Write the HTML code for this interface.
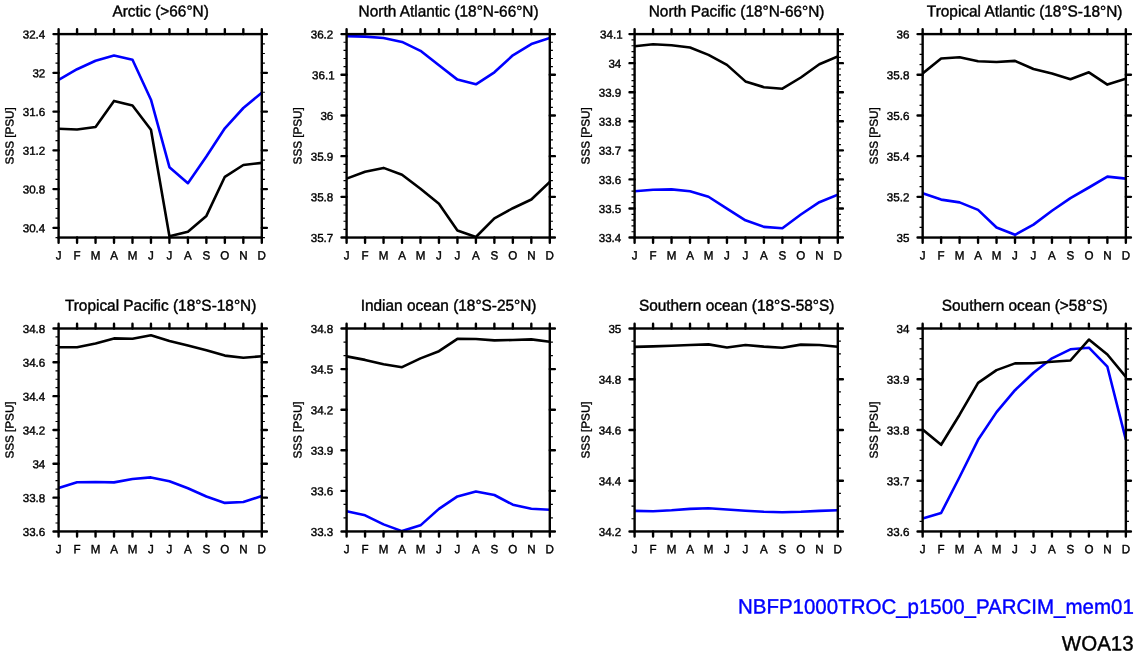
<!DOCTYPE html>
<html lang="en">
<head>
<meta charset="utf-8">
<title>SSS seasonal cycle</title>
<style>
html,body{margin:0;padding:0;background:#fff;}
body{width:1138px;height:656px;overflow:hidden;}
svg{display:block;}
text{font-family:"Liberation Sans",Arial,Helvetica,sans-serif;fill:#000;stroke:#000;stroke-width:0.4px;stroke-linejoin:round;}
.f1{font-size:20.5px;text-anchor:end;fill:#0000ff;stroke:#0000ff;}
.f2{font-size:20.5px;text-anchor:end;}
.t{font-size:15.4px;text-anchor:middle;}
.yl{font-size:11.6px;text-anchor:end;}
.xl{font-size:11.6px;text-anchor:middle;}
.al{font-size:11.7px;text-anchor:middle;}
.fr{fill:none;stroke:#000;stroke-width:2.4;stroke-linecap:butt;}
.mj{fill:none;stroke:#000;stroke-width:2.4;stroke-linecap:round;}
.mn{fill:none;stroke:#000;stroke-width:1.2;stroke-linecap:butt;}
.k{fill:none;stroke:#000;stroke-width:2.6;stroke-linejoin:round;stroke-linecap:butt;}
.b{fill:none;stroke:#0000ff;stroke-width:2.6;stroke-linejoin:round;stroke-linecap:butt;}
</style>
</head>
<body>
<svg width="1138" height="656" viewBox="0 0 1138 656">
<rect x="0" y="0" width="1138" height="656" fill="#ffffff"/>
<g id="panel1">
<clipPath id="c1"><rect x="58.6" y="34.1" width="203.2" height="203.45"/></clipPath>
<polyline class="b" clip-path="url(#c1)" points="58.6,80 77.07,69.2 95.55,60.7 114.02,55.6 132.49,59.7 150.96,99.7 169.44,167.2 187.91,183.2 206.38,156.5 224.85,128.3 243.33,108 261.8,92.7"/>
<polyline class="k" clip-path="url(#c1)" points="58.6,128.8 77.07,129.5 95.55,127 114.02,100.9 132.49,105.5 150.96,129.8 169.44,236.3 187.91,231.7 206.38,215.9 224.85,176.8 243.33,165 261.8,162.9"/>
<path class="mn" d="M55.5 237.55H58.6M261.8 237.55H264.9M55.5 218.17H58.6M261.8 218.17H264.9M55.5 208.49H58.6M261.8 208.49H264.9M55.5 198.8H58.6M261.8 198.8H264.9M55.5 179.42H58.6M261.8 179.42H264.9M55.5 169.73H58.6M261.8 169.73H264.9M55.5 160.05H58.6M261.8 160.05H264.9M55.5 140.67H58.6M261.8 140.67H264.9M55.5 130.98H58.6M261.8 130.98H264.9M55.5 121.29H58.6M261.8 121.29H264.9M55.5 101.92H58.6M261.8 101.92H264.9M55.5 92.23H58.6M261.8 92.23H264.9M55.5 82.54H58.6M261.8 82.54H264.9M55.5 63.16H58.6M261.8 63.16H264.9M55.5 53.48H58.6M261.8 53.48H264.9M55.5 43.79H58.6M261.8 43.79H264.9"/>
<path class="mj" d="M53.5 227.86H58.6M261.8 227.86H266.9M53.5 189.11H58.6M261.8 189.11H266.9M53.5 150.36H58.6M261.8 150.36H266.9M53.5 111.6H58.6M261.8 111.6H266.9M53.5 72.85H58.6M261.8 72.85H266.9M53.5 34.1H58.6M261.8 34.1H266.9M58.6 29.3V34.1M58.6 237.55V242.7M77.07 29.3V34.1M77.07 237.55V242.7M95.55 29.3V34.1M95.55 237.55V242.7M114.02 29.3V34.1M114.02 237.55V242.7M132.49 29.3V34.1M132.49 237.55V242.7M150.96 29.3V34.1M150.96 237.55V242.7M169.44 29.3V34.1M169.44 237.55V242.7M187.91 29.3V34.1M187.91 237.55V242.7M206.38 29.3V34.1M206.38 237.55V242.7M224.85 29.3V34.1M224.85 237.55V242.7M243.33 29.3V34.1M243.33 237.55V242.7M261.8 29.3V34.1M261.8 237.55V242.7"/>
<rect class="fr" x="58.6" y="34.1" width="203.2" height="203.45"/>
<text class="t" transform="translate(160.6 16.6) rotate(0.03) scale(1 1.03)">Arctic (>66°N)</text>
<text class="yl" transform="translate(45.3 232.36) rotate(0.03)">30.4</text>
<text class="yl" transform="translate(45.3 193.61) rotate(0.03)">30.8</text>
<text class="yl" transform="translate(45.3 154.86) rotate(0.03)">31.2</text>
<text class="yl" transform="translate(45.3 116.1) rotate(0.03)">31.6</text>
<text class="yl" transform="translate(45.3 77.35) rotate(0.03)">32</text>
<text class="yl" transform="translate(45.3 38.6) rotate(0.03)">32.4</text>
<text class="xl" transform="translate(58.6 259.45) rotate(0.03) scale(1 1.04)">J</text>
<text class="xl" transform="translate(77.07 259.45) rotate(0.03) scale(1 1.04)">F</text>
<text class="xl" transform="translate(95.55 259.45) rotate(0.03) scale(1 1.04)">M</text>
<text class="xl" transform="translate(114.02 259.45) rotate(0.03) scale(1 1.04)">A</text>
<text class="xl" transform="translate(132.49 259.45) rotate(0.03) scale(1 1.04)">M</text>
<text class="xl" transform="translate(150.96 259.45) rotate(0.03) scale(1 1.04)">J</text>
<text class="xl" transform="translate(169.44 259.45) rotate(0.03) scale(1 1.04)">J</text>
<text class="xl" transform="translate(187.91 259.45) rotate(0.03) scale(1 1.04)">A</text>
<text class="xl" transform="translate(206.38 259.45) rotate(0.03) scale(1 1.04)">S</text>
<text class="xl" transform="translate(224.85 259.45) rotate(0.03) scale(1 1.04)">O</text>
<text class="xl" transform="translate(243.33 259.45) rotate(0.03) scale(1 1.04)">N</text>
<text class="xl" transform="translate(261.8 259.45) rotate(0.03) scale(1 1.04)">D</text>
<text class="al" transform="translate(13.6 135.82) rotate(-89.97) scale(1 0.99)">SSS [PSU]</text>
</g>
<g id="panel2">
<clipPath id="c2"><rect x="346.6" y="34.1" width="203.2" height="203.45"/></clipPath>
<polyline class="b" clip-path="url(#c2)" points="346.6,36.1 365.07,36.6 383.55,37.95 402.02,41.9 420.49,50.8 438.96,65.3 457.44,79.6 475.91,84.3 494.38,72.3 512.85,55.3 531.33,44.05 549.8,37.95"/>
<polyline class="k" clip-path="url(#c2)" points="346.6,178.6 365.07,171.8 383.55,167.9 402.02,174.7 420.49,188.8 438.96,203.7 457.44,230.5 475.91,237 494.38,218.4 512.85,208.2 531.33,199.5 549.8,181.9"/>
<path class="mn" d="M343.5 229.41H346.6M549.8 229.41H552.9M343.5 221.27H346.6M549.8 221.27H552.9M343.5 213.14H346.6M549.8 213.14H552.9M343.5 205H346.6M549.8 205H552.9M343.5 188.72H346.6M549.8 188.72H552.9M343.5 180.58H346.6M549.8 180.58H552.9M343.5 172.45H346.6M549.8 172.45H552.9M343.5 164.31H346.6M549.8 164.31H552.9M343.5 148.03H346.6M549.8 148.03H552.9M343.5 139.89H346.6M549.8 139.89H552.9M343.5 131.76H346.6M549.8 131.76H552.9M343.5 123.62H346.6M549.8 123.62H552.9M343.5 107.34H346.6M549.8 107.34H552.9M343.5 99.2H346.6M549.8 99.2H552.9M343.5 91.07H346.6M549.8 91.07H552.9M343.5 82.93H346.6M549.8 82.93H552.9M343.5 66.65H346.6M549.8 66.65H552.9M343.5 58.51H346.6M549.8 58.51H552.9M343.5 50.38H346.6M549.8 50.38H552.9M343.5 42.24H346.6M549.8 42.24H552.9"/>
<path class="mj" d="M341.5 237.55H346.6M549.8 237.55H554.9M341.5 196.86H346.6M549.8 196.86H554.9M341.5 156.17H346.6M549.8 156.17H554.9M341.5 115.48H346.6M549.8 115.48H554.9M341.5 74.79H346.6M549.8 74.79H554.9M341.5 34.1H346.6M549.8 34.1H554.9M346.6 29.3V34.1M346.6 237.55V242.7M365.07 29.3V34.1M365.07 237.55V242.7M383.55 29.3V34.1M383.55 237.55V242.7M402.02 29.3V34.1M402.02 237.55V242.7M420.49 29.3V34.1M420.49 237.55V242.7M438.96 29.3V34.1M438.96 237.55V242.7M457.44 29.3V34.1M457.44 237.55V242.7M475.91 29.3V34.1M475.91 237.55V242.7M494.38 29.3V34.1M494.38 237.55V242.7M512.85 29.3V34.1M512.85 237.55V242.7M531.33 29.3V34.1M531.33 237.55V242.7M549.8 29.3V34.1M549.8 237.55V242.7"/>
<rect class="fr" x="346.6" y="34.1" width="203.2" height="203.45"/>
<text class="t" transform="translate(448.6 16.6) rotate(0.03) scale(1 1.03)">North Atlantic (18°N-66°N)</text>
<text class="yl" transform="translate(333.3 242.05) rotate(0.03)">35.7</text>
<text class="yl" transform="translate(333.3 201.36) rotate(0.03)">35.8</text>
<text class="yl" transform="translate(333.3 160.67) rotate(0.03)">35.9</text>
<text class="yl" transform="translate(333.3 119.98) rotate(0.03)">36</text>
<text class="yl" transform="translate(334.6 79.29) rotate(0.03)">36.1</text>
<text class="yl" transform="translate(333.3 38.6) rotate(0.03)">36.2</text>
<text class="xl" transform="translate(346.6 259.45) rotate(0.03) scale(1 1.04)">J</text>
<text class="xl" transform="translate(365.07 259.45) rotate(0.03) scale(1 1.04)">F</text>
<text class="xl" transform="translate(383.55 259.45) rotate(0.03) scale(1 1.04)">M</text>
<text class="xl" transform="translate(402.02 259.45) rotate(0.03) scale(1 1.04)">A</text>
<text class="xl" transform="translate(420.49 259.45) rotate(0.03) scale(1 1.04)">M</text>
<text class="xl" transform="translate(438.96 259.45) rotate(0.03) scale(1 1.04)">J</text>
<text class="xl" transform="translate(457.44 259.45) rotate(0.03) scale(1 1.04)">J</text>
<text class="xl" transform="translate(475.91 259.45) rotate(0.03) scale(1 1.04)">A</text>
<text class="xl" transform="translate(494.38 259.45) rotate(0.03) scale(1 1.04)">S</text>
<text class="xl" transform="translate(512.85 259.45) rotate(0.03) scale(1 1.04)">O</text>
<text class="xl" transform="translate(531.33 259.45) rotate(0.03) scale(1 1.04)">N</text>
<text class="xl" transform="translate(549.8 259.45) rotate(0.03) scale(1 1.04)">D</text>
<text class="al" transform="translate(301.6 135.82) rotate(-89.97) scale(1 0.99)">SSS [PSU]</text>
</g>
<g id="panel3">
<clipPath id="c3"><rect x="634.6" y="34.1" width="203.2" height="203.45"/></clipPath>
<polyline class="b" clip-path="url(#c3)" points="634.6,191.3 653.07,189.8 671.55,189.4 690.02,191.3 708.49,196.75 726.96,208.7 745.44,220.3 763.91,226.9 782.38,228.3 800.85,214.5 819.33,202.2 837.8,194.8"/>
<polyline class="k" clip-path="url(#c3)" points="634.6,46.2 653.07,44.2 671.55,45.2 690.02,47.5 708.49,54.9 726.96,64.9 745.44,81.4 763.91,87.2 782.38,88.7 800.85,77.5 819.33,64.3 837.8,56.4"/>
<path class="mn" d="M631.5 231.74H634.6M837.8 231.74H840.9M631.5 225.92H634.6M837.8 225.92H840.9M631.5 220.11H634.6M837.8 220.11H840.9M631.5 214.3H634.6M837.8 214.3H840.9M631.5 202.67H634.6M837.8 202.67H840.9M631.5 196.86H634.6M837.8 196.86H840.9M631.5 191.05H634.6M837.8 191.05H840.9M631.5 185.23H634.6M837.8 185.23H840.9M631.5 173.61H634.6M837.8 173.61H840.9M631.5 167.8H634.6M837.8 167.8H840.9M631.5 161.98H634.6M837.8 161.98H840.9M631.5 156.17H634.6M837.8 156.17H840.9M631.5 144.54H634.6M837.8 144.54H840.9M631.5 138.73H634.6M837.8 138.73H840.9M631.5 132.92H634.6M837.8 132.92H840.9M631.5 127.11H634.6M837.8 127.11H840.9M631.5 115.48H634.6M837.8 115.48H840.9M631.5 109.67H634.6M837.8 109.67H840.9M631.5 103.85H634.6M837.8 103.85H840.9M631.5 98.04H634.6M837.8 98.04H840.9M631.5 86.42H634.6M837.8 86.42H840.9M631.5 80.6H634.6M837.8 80.6H840.9M631.5 74.79H634.6M837.8 74.79H840.9M631.5 68.98H634.6M837.8 68.98H840.9M631.5 57.35H634.6M837.8 57.35H840.9M631.5 51.54H634.6M837.8 51.54H840.9M631.5 45.73H634.6M837.8 45.73H840.9M631.5 39.91H634.6M837.8 39.91H840.9"/>
<path class="mj" d="M629.5 237.55H634.6M837.8 237.55H842.9M629.5 208.49H634.6M837.8 208.49H842.9M629.5 179.42H634.6M837.8 179.42H842.9M629.5 150.36H634.6M837.8 150.36H842.9M629.5 121.29H634.6M837.8 121.29H842.9M629.5 92.23H634.6M837.8 92.23H842.9M629.5 63.16H634.6M837.8 63.16H842.9M629.5 34.1H634.6M837.8 34.1H842.9M634.6 29.3V34.1M634.6 237.55V242.7M653.07 29.3V34.1M653.07 237.55V242.7M671.55 29.3V34.1M671.55 237.55V242.7M690.02 29.3V34.1M690.02 237.55V242.7M708.49 29.3V34.1M708.49 237.55V242.7M726.96 29.3V34.1M726.96 237.55V242.7M745.44 29.3V34.1M745.44 237.55V242.7M763.91 29.3V34.1M763.91 237.55V242.7M782.38 29.3V34.1M782.38 237.55V242.7M800.85 29.3V34.1M800.85 237.55V242.7M819.33 29.3V34.1M819.33 237.55V242.7M837.8 29.3V34.1M837.8 237.55V242.7"/>
<rect class="fr" x="634.6" y="34.1" width="203.2" height="203.45"/>
<text class="t" transform="translate(736.6 16.6) rotate(0.03) scale(1 1.03)">North Pacific (18°N-66°N)</text>
<text class="yl" transform="translate(621.3 242.05) rotate(0.03)">33.4</text>
<text class="yl" transform="translate(621.3 212.99) rotate(0.03)">33.5</text>
<text class="yl" transform="translate(621.3 183.92) rotate(0.03)">33.6</text>
<text class="yl" transform="translate(621.3 154.86) rotate(0.03)">33.7</text>
<text class="yl" transform="translate(621.3 125.79) rotate(0.03)">33.8</text>
<text class="yl" transform="translate(621.3 96.73) rotate(0.03)">33.9</text>
<text class="yl" transform="translate(621.3 67.66) rotate(0.03)">34</text>
<text class="yl" transform="translate(622.6 38.6) rotate(0.03)">34.1</text>
<text class="xl" transform="translate(634.6 259.45) rotate(0.03) scale(1 1.04)">J</text>
<text class="xl" transform="translate(653.07 259.45) rotate(0.03) scale(1 1.04)">F</text>
<text class="xl" transform="translate(671.55 259.45) rotate(0.03) scale(1 1.04)">M</text>
<text class="xl" transform="translate(690.02 259.45) rotate(0.03) scale(1 1.04)">A</text>
<text class="xl" transform="translate(708.49 259.45) rotate(0.03) scale(1 1.04)">M</text>
<text class="xl" transform="translate(726.96 259.45) rotate(0.03) scale(1 1.04)">J</text>
<text class="xl" transform="translate(745.44 259.45) rotate(0.03) scale(1 1.04)">J</text>
<text class="xl" transform="translate(763.91 259.45) rotate(0.03) scale(1 1.04)">A</text>
<text class="xl" transform="translate(782.38 259.45) rotate(0.03) scale(1 1.04)">S</text>
<text class="xl" transform="translate(800.85 259.45) rotate(0.03) scale(1 1.04)">O</text>
<text class="xl" transform="translate(819.33 259.45) rotate(0.03) scale(1 1.04)">N</text>
<text class="xl" transform="translate(837.8 259.45) rotate(0.03) scale(1 1.04)">D</text>
<text class="al" transform="translate(589.6 135.82) rotate(-89.97) scale(1 0.99)">SSS [PSU]</text>
</g>
<g id="panel4">
<clipPath id="c4"><rect x="922.65" y="34.1" width="203.2" height="203.45"/></clipPath>
<polyline class="b" clip-path="url(#c4)" points="922.65,193.3 941.12,199.6 959.6,202.4 978.07,209.9 996.54,227.5 1015.01,234.8 1033.49,224.6 1051.96,210.7 1070.43,198.1 1088.9,187.5 1107.38,176.6 1125.85,178.6"/>
<polyline class="k" clip-path="url(#c4)" points="922.65,73.4 941.12,58.55 959.6,57.2 978.07,61.25 996.54,62 1015.01,60.9 1033.49,69 1051.96,73.4 1070.43,79.2 1088.9,72.3 1107.38,84.6 1125.85,78.8"/>
<path class="mn" d="M919.55 227.38H922.65M1125.85 227.38H1128.95M919.55 217.2H922.65M1125.85 217.2H1128.95M919.55 207.03H922.65M1125.85 207.03H1128.95M919.55 186.69H922.65M1125.85 186.69H1128.95M919.55 176.52H922.65M1125.85 176.52H1128.95M919.55 166.34H922.65M1125.85 166.34H1128.95M919.55 146H922.65M1125.85 146H1128.95M919.55 135.82H922.65M1125.85 135.82H1128.95M919.55 125.65H922.65M1125.85 125.65H1128.95M919.55 105.31H922.65M1125.85 105.31H1128.95M919.55 95.13H922.65M1125.85 95.13H1128.95M919.55 84.96H922.65M1125.85 84.96H1128.95M919.55 64.62H922.65M1125.85 64.62H1128.95M919.55 54.45H922.65M1125.85 54.45H1128.95M919.55 44.27H922.65M1125.85 44.27H1128.95"/>
<path class="mj" d="M917.55 237.55H922.65M1125.85 237.55H1130.95M917.55 196.86H922.65M1125.85 196.86H1130.95M917.55 156.17H922.65M1125.85 156.17H1130.95M917.55 115.48H922.65M1125.85 115.48H1130.95M917.55 74.79H922.65M1125.85 74.79H1130.95M917.55 34.1H922.65M1125.85 34.1H1130.95M922.65 29.3V34.1M922.65 237.55V242.7M941.12 29.3V34.1M941.12 237.55V242.7M959.6 29.3V34.1M959.6 237.55V242.7M978.07 29.3V34.1M978.07 237.55V242.7M996.54 29.3V34.1M996.54 237.55V242.7M1015.01 29.3V34.1M1015.01 237.55V242.7M1033.49 29.3V34.1M1033.49 237.55V242.7M1051.96 29.3V34.1M1051.96 237.55V242.7M1070.43 29.3V34.1M1070.43 237.55V242.7M1088.9 29.3V34.1M1088.9 237.55V242.7M1107.38 29.3V34.1M1107.38 237.55V242.7M1125.85 29.3V34.1M1125.85 237.55V242.7"/>
<rect class="fr" x="922.65" y="34.1" width="203.2" height="203.45"/>
<text class="t" transform="translate(1024.65 16.6) rotate(0.03) scale(1 1.03)">Tropical Atlantic (18°S-18°N)</text>
<text class="yl" transform="translate(909.35 242.05) rotate(0.03)">35</text>
<text class="yl" transform="translate(909.35 201.36) rotate(0.03)">35.2</text>
<text class="yl" transform="translate(909.35 160.67) rotate(0.03)">35.4</text>
<text class="yl" transform="translate(909.35 119.98) rotate(0.03)">35.6</text>
<text class="yl" transform="translate(909.35 79.29) rotate(0.03)">35.8</text>
<text class="yl" transform="translate(909.35 38.6) rotate(0.03)">36</text>
<text class="xl" transform="translate(922.65 259.45) rotate(0.03) scale(1 1.04)">J</text>
<text class="xl" transform="translate(941.12 259.45) rotate(0.03) scale(1 1.04)">F</text>
<text class="xl" transform="translate(959.6 259.45) rotate(0.03) scale(1 1.04)">M</text>
<text class="xl" transform="translate(978.07 259.45) rotate(0.03) scale(1 1.04)">A</text>
<text class="xl" transform="translate(996.54 259.45) rotate(0.03) scale(1 1.04)">M</text>
<text class="xl" transform="translate(1015.01 259.45) rotate(0.03) scale(1 1.04)">J</text>
<text class="xl" transform="translate(1033.49 259.45) rotate(0.03) scale(1 1.04)">J</text>
<text class="xl" transform="translate(1051.96 259.45) rotate(0.03) scale(1 1.04)">A</text>
<text class="xl" transform="translate(1070.43 259.45) rotate(0.03) scale(1 1.04)">S</text>
<text class="xl" transform="translate(1088.9 259.45) rotate(0.03) scale(1 1.04)">O</text>
<text class="xl" transform="translate(1107.38 259.45) rotate(0.03) scale(1 1.04)">N</text>
<text class="xl" transform="translate(1125.85 259.45) rotate(0.03) scale(1 1.04)">D</text>
<text class="al" transform="translate(877.65 135.82) rotate(-89.97) scale(1 0.99)">SSS [PSU]</text>
</g>
<g id="panel5">
<clipPath id="c5"><rect x="58.6" y="328.5" width="203.2" height="202.95"/></clipPath>
<polyline class="b" clip-path="url(#c5)" points="58.6,488 77.07,482.2 95.55,482.05 114.02,482.4 132.49,479 150.96,477.4 169.44,481.3 187.91,488.2 206.38,496.55 224.85,502.9 243.33,502 261.8,496"/>
<polyline class="k" clip-path="url(#c5)" points="58.6,347.3 77.07,347.3 95.55,343.5 114.02,338.4 132.49,338.8 150.96,335.2 169.44,340.95 187.91,345.6 206.38,350.2 224.85,355.6 243.33,357.8 261.8,356.2"/>
<path class="mn" d="M55.5 522.99H58.6M261.8 522.99H264.9M55.5 514.54H58.6M261.8 514.54H264.9M55.5 506.08H58.6M261.8 506.08H264.9M55.5 489.17H58.6M261.8 489.17H264.9M55.5 480.71H58.6M261.8 480.71H264.9M55.5 472.26H58.6M261.8 472.26H264.9M55.5 455.34H58.6M261.8 455.34H264.9M55.5 446.89H58.6M261.8 446.89H264.9M55.5 438.43H58.6M261.8 438.43H264.9M55.5 421.52H58.6M261.8 421.52H264.9M55.5 413.06H58.6M261.8 413.06H264.9M55.5 404.61H58.6M261.8 404.61H264.9M55.5 387.69H58.6M261.8 387.69H264.9M55.5 379.24H58.6M261.8 379.24H264.9M55.5 370.78H58.6M261.8 370.78H264.9M55.5 353.87H58.6M261.8 353.87H264.9M55.5 345.41H58.6M261.8 345.41H264.9M55.5 336.96H58.6M261.8 336.96H264.9"/>
<path class="mj" d="M53.5 531.45H58.6M261.8 531.45H266.9M53.5 497.63H58.6M261.8 497.63H266.9M53.5 463.8H58.6M261.8 463.8H266.9M53.5 429.97H58.6M261.8 429.97H266.9M53.5 396.15H58.6M261.8 396.15H266.9M53.5 362.32H58.6M261.8 362.32H266.9M53.5 328.5H58.6M261.8 328.5H266.9M58.6 323.7V328.5M58.6 531.45V536.6M77.07 323.7V328.5M77.07 531.45V536.6M95.55 323.7V328.5M95.55 531.45V536.6M114.02 323.7V328.5M114.02 531.45V536.6M132.49 323.7V328.5M132.49 531.45V536.6M150.96 323.7V328.5M150.96 531.45V536.6M169.44 323.7V328.5M169.44 531.45V536.6M187.91 323.7V328.5M187.91 531.45V536.6M206.38 323.7V328.5M206.38 531.45V536.6M224.85 323.7V328.5M224.85 531.45V536.6M243.33 323.7V328.5M243.33 531.45V536.6M261.8 323.7V328.5M261.8 531.45V536.6"/>
<rect class="fr" x="58.6" y="328.5" width="203.2" height="202.95"/>
<text class="t" transform="translate(160.6 310.8) rotate(0.03) scale(1 1.03)">Tropical Pacific (18°S-18°N)</text>
<text class="yl" transform="translate(45.3 535.95) rotate(0.03)">33.6</text>
<text class="yl" transform="translate(45.3 502.13) rotate(0.03)">33.8</text>
<text class="yl" transform="translate(45.3 468.3) rotate(0.03)">34</text>
<text class="yl" transform="translate(45.3 434.47) rotate(0.03)">34.2</text>
<text class="yl" transform="translate(45.3 400.65) rotate(0.03)">34.4</text>
<text class="yl" transform="translate(45.3 366.82) rotate(0.03)">34.6</text>
<text class="yl" transform="translate(45.3 333) rotate(0.03)">34.8</text>
<text class="xl" transform="translate(58.6 553.35) rotate(0.03) scale(1 1.04)">J</text>
<text class="xl" transform="translate(77.07 553.35) rotate(0.03) scale(1 1.04)">F</text>
<text class="xl" transform="translate(95.55 553.35) rotate(0.03) scale(1 1.04)">M</text>
<text class="xl" transform="translate(114.02 553.35) rotate(0.03) scale(1 1.04)">A</text>
<text class="xl" transform="translate(132.49 553.35) rotate(0.03) scale(1 1.04)">M</text>
<text class="xl" transform="translate(150.96 553.35) rotate(0.03) scale(1 1.04)">J</text>
<text class="xl" transform="translate(169.44 553.35) rotate(0.03) scale(1 1.04)">J</text>
<text class="xl" transform="translate(187.91 553.35) rotate(0.03) scale(1 1.04)">A</text>
<text class="xl" transform="translate(206.38 553.35) rotate(0.03) scale(1 1.04)">S</text>
<text class="xl" transform="translate(224.85 553.35) rotate(0.03) scale(1 1.04)">O</text>
<text class="xl" transform="translate(243.33 553.35) rotate(0.03) scale(1 1.04)">N</text>
<text class="xl" transform="translate(261.8 553.35) rotate(0.03) scale(1 1.04)">D</text>
<text class="al" transform="translate(13.6 429.98) rotate(-89.97) scale(1 0.99)">SSS [PSU]</text>
</g>
<g id="panel6">
<clipPath id="c6"><rect x="346.6" y="328.5" width="203.2" height="202.95"/></clipPath>
<polyline class="b" clip-path="url(#c6)" points="346.6,511.2 365.07,515.3 383.55,524.4 402.02,531.1 420.49,525.35 438.96,508.9 457.44,496.4 475.91,491.5 494.38,495 512.85,504.7 531.33,508.7 549.8,509.7"/>
<polyline class="k" clip-path="url(#c6)" points="346.6,356.4 365.07,359.9 383.55,364.3 402.02,367.2 420.49,358.35 438.96,351.2 457.44,338.8 475.91,339 494.38,340.4 512.85,340 531.33,339.4 549.8,341.7"/>
<path class="mn" d="M343.5 517.92H346.6M549.8 517.92H552.9M343.5 504.39H346.6M549.8 504.39H552.9M343.5 477.33H346.6M549.8 477.33H552.9M343.5 463.8H346.6M549.8 463.8H552.9M343.5 436.74H346.6M549.8 436.74H552.9M343.5 423.21H346.6M549.8 423.21H552.9M343.5 396.15H346.6M549.8 396.15H552.9M343.5 382.62H346.6M549.8 382.62H552.9M343.5 355.56H346.6M549.8 355.56H552.9M343.5 342.03H346.6M549.8 342.03H552.9"/>
<path class="mj" d="M341.5 531.45H346.6M549.8 531.45H554.9M341.5 490.86H346.6M549.8 490.86H554.9M341.5 450.27H346.6M549.8 450.27H554.9M341.5 409.68H346.6M549.8 409.68H554.9M341.5 369.09H346.6M549.8 369.09H554.9M341.5 328.5H346.6M549.8 328.5H554.9M346.6 323.7V328.5M346.6 531.45V536.6M365.07 323.7V328.5M365.07 531.45V536.6M383.55 323.7V328.5M383.55 531.45V536.6M402.02 323.7V328.5M402.02 531.45V536.6M420.49 323.7V328.5M420.49 531.45V536.6M438.96 323.7V328.5M438.96 531.45V536.6M457.44 323.7V328.5M457.44 531.45V536.6M475.91 323.7V328.5M475.91 531.45V536.6M494.38 323.7V328.5M494.38 531.45V536.6M512.85 323.7V328.5M512.85 531.45V536.6M531.33 323.7V328.5M531.33 531.45V536.6M549.8 323.7V328.5M549.8 531.45V536.6"/>
<rect class="fr" x="346.6" y="328.5" width="203.2" height="202.95"/>
<text class="t" transform="translate(448.6 310.8) rotate(0.03) scale(1 1.03)">Indian ocean (18°S-25°N)</text>
<text class="yl" transform="translate(333.3 535.95) rotate(0.03)">33.3</text>
<text class="yl" transform="translate(333.3 495.36) rotate(0.03)">33.6</text>
<text class="yl" transform="translate(333.3 454.77) rotate(0.03)">33.9</text>
<text class="yl" transform="translate(333.3 414.18) rotate(0.03)">34.2</text>
<text class="yl" transform="translate(333.3 373.59) rotate(0.03)">34.5</text>
<text class="yl" transform="translate(333.3 333) rotate(0.03)">34.8</text>
<text class="xl" transform="translate(346.6 553.35) rotate(0.03) scale(1 1.04)">J</text>
<text class="xl" transform="translate(365.07 553.35) rotate(0.03) scale(1 1.04)">F</text>
<text class="xl" transform="translate(383.55 553.35) rotate(0.03) scale(1 1.04)">M</text>
<text class="xl" transform="translate(402.02 553.35) rotate(0.03) scale(1 1.04)">A</text>
<text class="xl" transform="translate(420.49 553.35) rotate(0.03) scale(1 1.04)">M</text>
<text class="xl" transform="translate(438.96 553.35) rotate(0.03) scale(1 1.04)">J</text>
<text class="xl" transform="translate(457.44 553.35) rotate(0.03) scale(1 1.04)">J</text>
<text class="xl" transform="translate(475.91 553.35) rotate(0.03) scale(1 1.04)">A</text>
<text class="xl" transform="translate(494.38 553.35) rotate(0.03) scale(1 1.04)">S</text>
<text class="xl" transform="translate(512.85 553.35) rotate(0.03) scale(1 1.04)">O</text>
<text class="xl" transform="translate(531.33 553.35) rotate(0.03) scale(1 1.04)">N</text>
<text class="xl" transform="translate(549.8 553.35) rotate(0.03) scale(1 1.04)">D</text>
<text class="al" transform="translate(301.6 429.98) rotate(-89.97) scale(1 0.99)">SSS [PSU]</text>
</g>
<g id="panel7">
<clipPath id="c7"><rect x="634.6" y="328.5" width="203.2" height="202.95"/></clipPath>
<polyline class="b" clip-path="url(#c7)" points="634.6,510.85 653.07,511.2 671.55,510.3 690.02,508.9 708.49,508.3 726.96,509.5 745.44,510.7 763.91,511.8 782.38,512.2 800.85,511.8 819.33,510.85 837.8,510.3"/>
<polyline class="k" clip-path="url(#c7)" points="634.6,346.9 653.07,346.4 671.55,345.8 690.02,345 708.49,344.4 726.96,347.5 745.44,345 763.91,346.6 782.38,347.7 800.85,344.6 819.33,345 837.8,346.75"/>
<path class="mn" d="M631.5 518.77H634.6M837.8 518.77H840.9M631.5 506.08H634.6M837.8 506.08H840.9M631.5 493.4H634.6M837.8 493.4H840.9M631.5 468.03H634.6M837.8 468.03H840.9M631.5 455.34H634.6M837.8 455.34H840.9M631.5 442.66H634.6M837.8 442.66H840.9M631.5 417.29H634.6M837.8 417.29H840.9M631.5 404.61H634.6M837.8 404.61H840.9M631.5 391.92H634.6M837.8 391.92H840.9M631.5 366.55H634.6M837.8 366.55H840.9M631.5 353.87H634.6M837.8 353.87H840.9M631.5 341.18H634.6M837.8 341.18H840.9"/>
<path class="mj" d="M629.5 531.45H634.6M837.8 531.45H842.9M629.5 480.71H634.6M837.8 480.71H842.9M629.5 429.98H634.6M837.8 429.98H842.9M629.5 379.24H634.6M837.8 379.24H842.9M629.5 328.5H634.6M837.8 328.5H842.9M634.6 323.7V328.5M634.6 531.45V536.6M653.07 323.7V328.5M653.07 531.45V536.6M671.55 323.7V328.5M671.55 531.45V536.6M690.02 323.7V328.5M690.02 531.45V536.6M708.49 323.7V328.5M708.49 531.45V536.6M726.96 323.7V328.5M726.96 531.45V536.6M745.44 323.7V328.5M745.44 531.45V536.6M763.91 323.7V328.5M763.91 531.45V536.6M782.38 323.7V328.5M782.38 531.45V536.6M800.85 323.7V328.5M800.85 531.45V536.6M819.33 323.7V328.5M819.33 531.45V536.6M837.8 323.7V328.5M837.8 531.45V536.6"/>
<rect class="fr" x="634.6" y="328.5" width="203.2" height="202.95"/>
<text class="t" transform="translate(736.6 310.8) rotate(0.03) scale(1 1.03)">Southern ocean (18°S-58°S)</text>
<text class="yl" transform="translate(621.3 535.95) rotate(0.03)">34.2</text>
<text class="yl" transform="translate(621.3 485.21) rotate(0.03)">34.4</text>
<text class="yl" transform="translate(621.3 434.48) rotate(0.03)">34.6</text>
<text class="yl" transform="translate(621.3 383.74) rotate(0.03)">34.8</text>
<text class="yl" transform="translate(621.3 333) rotate(0.03)">35</text>
<text class="xl" transform="translate(634.6 553.35) rotate(0.03) scale(1 1.04)">J</text>
<text class="xl" transform="translate(653.07 553.35) rotate(0.03) scale(1 1.04)">F</text>
<text class="xl" transform="translate(671.55 553.35) rotate(0.03) scale(1 1.04)">M</text>
<text class="xl" transform="translate(690.02 553.35) rotate(0.03) scale(1 1.04)">A</text>
<text class="xl" transform="translate(708.49 553.35) rotate(0.03) scale(1 1.04)">M</text>
<text class="xl" transform="translate(726.96 553.35) rotate(0.03) scale(1 1.04)">J</text>
<text class="xl" transform="translate(745.44 553.35) rotate(0.03) scale(1 1.04)">J</text>
<text class="xl" transform="translate(763.91 553.35) rotate(0.03) scale(1 1.04)">A</text>
<text class="xl" transform="translate(782.38 553.35) rotate(0.03) scale(1 1.04)">S</text>
<text class="xl" transform="translate(800.85 553.35) rotate(0.03) scale(1 1.04)">O</text>
<text class="xl" transform="translate(819.33 553.35) rotate(0.03) scale(1 1.04)">N</text>
<text class="xl" transform="translate(837.8 553.35) rotate(0.03) scale(1 1.04)">D</text>
<text class="al" transform="translate(589.6 429.98) rotate(-89.97) scale(1 0.99)">SSS [PSU]</text>
</g>
<g id="panel8">
<clipPath id="c8"><rect x="922.65" y="328.5" width="203.2" height="202.95"/></clipPath>
<polyline class="b" clip-path="url(#c8)" points="922.65,518.6 941.12,513 959.6,477 978.07,439.8 996.54,412.1 1015.01,390.2 1033.49,372.8 1051.96,358.3 1070.43,349.3 1088.9,347.7 1107.38,366.7 1125.85,439.7"/>
<polyline class="k" clip-path="url(#c8)" points="922.65,429.5 941.12,444.8 959.6,414.7 978.07,382.9 996.54,370.1 1015.01,363.4 1033.49,363.2 1051.96,361.8 1070.43,360.5 1088.9,339.6 1107.38,354.5 1125.85,376.9"/>
<path class="mn" d="M919.55 521.3H922.65M1125.85 521.3H1128.95M919.55 511.16H922.65M1125.85 511.16H1128.95M919.55 501.01H922.65M1125.85 501.01H1128.95M919.55 490.86H922.65M1125.85 490.86H1128.95M919.55 470.57H922.65M1125.85 470.57H1128.95M919.55 460.42H922.65M1125.85 460.42H1128.95M919.55 450.27H922.65M1125.85 450.27H1128.95M919.55 440.12H922.65M1125.85 440.12H1128.95M919.55 419.83H922.65M1125.85 419.83H1128.95M919.55 409.68H922.65M1125.85 409.68H1128.95M919.55 399.53H922.65M1125.85 399.53H1128.95M919.55 389.38H922.65M1125.85 389.38H1128.95M919.55 369.09H922.65M1125.85 369.09H1128.95M919.55 358.94H922.65M1125.85 358.94H1128.95M919.55 348.79H922.65M1125.85 348.79H1128.95M919.55 338.65H922.65M1125.85 338.65H1128.95"/>
<path class="mj" d="M917.55 531.45H922.65M1125.85 531.45H1130.95M917.55 480.71H922.65M1125.85 480.71H1130.95M917.55 429.98H922.65M1125.85 429.98H1130.95M917.55 379.24H922.65M1125.85 379.24H1130.95M917.55 328.5H922.65M1125.85 328.5H1130.95M922.65 323.7V328.5M922.65 531.45V536.6M941.12 323.7V328.5M941.12 531.45V536.6M959.6 323.7V328.5M959.6 531.45V536.6M978.07 323.7V328.5M978.07 531.45V536.6M996.54 323.7V328.5M996.54 531.45V536.6M1015.01 323.7V328.5M1015.01 531.45V536.6M1033.49 323.7V328.5M1033.49 531.45V536.6M1051.96 323.7V328.5M1051.96 531.45V536.6M1070.43 323.7V328.5M1070.43 531.45V536.6M1088.9 323.7V328.5M1088.9 531.45V536.6M1107.38 323.7V328.5M1107.38 531.45V536.6M1125.85 323.7V328.5M1125.85 531.45V536.6"/>
<rect class="fr" x="922.65" y="328.5" width="203.2" height="202.95"/>
<text class="t" transform="translate(1024.65 310.8) rotate(0.03) scale(1 1.03)">Southern ocean (>58°S)</text>
<text class="yl" transform="translate(909.35 535.95) rotate(0.03)">33.6</text>
<text class="yl" transform="translate(909.35 485.21) rotate(0.03)">33.7</text>
<text class="yl" transform="translate(909.35 434.48) rotate(0.03)">33.8</text>
<text class="yl" transform="translate(909.35 383.74) rotate(0.03)">33.9</text>
<text class="yl" transform="translate(909.35 333) rotate(0.03)">34</text>
<text class="xl" transform="translate(922.65 553.35) rotate(0.03) scale(1 1.04)">J</text>
<text class="xl" transform="translate(941.12 553.35) rotate(0.03) scale(1 1.04)">F</text>
<text class="xl" transform="translate(959.6 553.35) rotate(0.03) scale(1 1.04)">M</text>
<text class="xl" transform="translate(978.07 553.35) rotate(0.03) scale(1 1.04)">A</text>
<text class="xl" transform="translate(996.54 553.35) rotate(0.03) scale(1 1.04)">M</text>
<text class="xl" transform="translate(1015.01 553.35) rotate(0.03) scale(1 1.04)">J</text>
<text class="xl" transform="translate(1033.49 553.35) rotate(0.03) scale(1 1.04)">J</text>
<text class="xl" transform="translate(1051.96 553.35) rotate(0.03) scale(1 1.04)">A</text>
<text class="xl" transform="translate(1070.43 553.35) rotate(0.03) scale(1 1.04)">S</text>
<text class="xl" transform="translate(1088.9 553.35) rotate(0.03) scale(1 1.04)">O</text>
<text class="xl" transform="translate(1107.38 553.35) rotate(0.03) scale(1 1.04)">N</text>
<text class="xl" transform="translate(1125.85 553.35) rotate(0.03) scale(1 1.04)">D</text>
<text class="al" transform="translate(877.65 429.98) rotate(-89.97) scale(1 0.99)">SSS [PSU]</text>
</g>
<text class="f1" transform="translate(1133.8 613.8) rotate(0.03) scale(1 1.015)">NBFP1000TROC_p1500_PARCIM_mem01</text>
<text class="f2" transform="translate(1133.6 650.5) rotate(0.03) scale(1 1.015)">WOA13</text>
</svg>
</body>
</html>
